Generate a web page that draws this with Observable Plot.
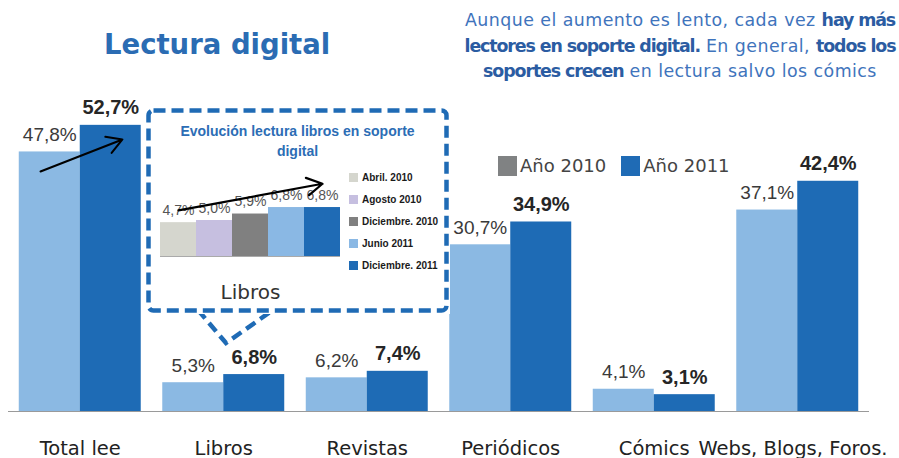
<!DOCTYPE html>
<html>
<head>
<meta charset="utf-8">
<script src="https://cdn.jsdelivr.net/npm/d3@7"></script>
<script src="https://cdn.jsdelivr.net/npm/@observablehq/plot@0.6"></script>
<style>
  body { margin: 0; background: #fff; }
  #wrap { position: relative; width: 899px; height: 458px; overflow: hidden; font-family: "DejaVu Sans", sans-serif; }
  #wrap > * { position: absolute; }
  .title { left: 104px; top: 28px; font-weight: bold; font-size: 27.5px; color: #2B6CB3; white-space: nowrap; }
  .sub { left: 455px; top: 8px; width: 450px; text-align: center; font-size: 17.4px; line-height: 25.5px; color: #3F74BC; white-space: nowrap; letter-spacing: 0.45px; }
  .sub b { color: #2B5CA2; letter-spacing: -1.1px; }
  .legend { left: 498px; top: 155px; font-size: 18px; color: #444; white-space: nowrap; }
  .legend span.sw { display: inline-block; width: 19px; height: 20px; vertical-align: -4px; margin-right: 3px; }
  .ilegend { left: 349px; top: 172px; font-family: "Liberation Sans", sans-serif; font-weight: bold; font-size: 10px; color: #1a1a1a; }
  .ilegend div { height: 22px; line-height: 12px; white-space: nowrap; }
  .ilegend span.sw { display: inline-block; width: 9px; height: 9px; margin-right: 4px; vertical-align: -1px; }
</style>
</head>
<body>
<div id="wrap"></div>
<script>
// ---- data ----
const categories = ["Total lee", "Libros", "Revistas", "Periódicos", "Cómics", "Webs, Blogs, Foros."];
const values2010 = [47.8, 5.3, 6.2, 30.7, 4.1, 37.1];
const values2011 = [52.7, 6.8, 7.4, 34.9, 3.1, 42.4];
const years = ["Año 2010", "Año 2011"];
const yearSwatches = ["#808283", "#1F6BB5"];
const bookPeriods = ["Abril. 2010", "Agosto 2010", "Diciembre. 2010", "Junio 2011", "Diciembre. 2011"];
const bookValues = [4.7, 5.0, 5.9, 6.8, 6.8];
const bookColors = ["#D5D6CE", "#C6BFE0", "#808080", "#8AB8E4", "#1F6BB5"];
// trend arrows (data units: x = group position, y = percent)
const mainArrow = [{x1: 0.223, y1: 44.2, x2: 0.794, y2: 50.1}];
const bookArrow = [{x1: "Abril. 2010", y1: 6.4, x2: "Diciembre. 2011", y2: 10.1}];

const c2010 = "#8BB9E3", c2011 = "#1E6BB5";
const fmt = v => v.toFixed(1).replace(".", ",") + "%";
const rows2010 = categories.map((c, i) => ({cat: c, i, value: values2010[i]}));
const rows2011 = categories.map((c, i) => ({cat: c, i, value: values2011[i]}));
const book = bookPeriods.map((p, i) => ({period: p, value: bookValues[i]}));

const wrap = document.getElementById("wrap");

// ---- main chart ----
const main = Plot.plot({
  width: 899, height: 458,
  marginTop: 0, marginLeft: 0, marginRight: 0, marginBottom: 47,
  x: {domain: [0, 6], range: [8, 869], axis: null},
  y: {domain: [0, 60], range: [411, 411 - 60 * 5.43], axis: null},
  style: {background: "transparent", overflow: "visible"},
  marks: [
    Plot.rectY(rows2010, {x1: d => d.i + 0.075, x2: d => d.i + 0.5, y1: 0, y2: "value", fill: c2010}),
    Plot.rectY(rows2011, {x1: d => d.i + 0.5, x2: d => d.i + 0.925, y1: 0, y2: "value", fill: c2011}),
    Plot.ruleY([0], {x1: 0, x2: 6, stroke: "#9a9a9a", strokeWidth: 1.2}),
    Plot.text(rows2010, {x: d => d.i + 0.2875, y: "value", text: d => fmt(d.value), dy: -11, lineAnchor: "bottom",
      fontSize: 19, fontFamily: "Liberation Sans", fill: "#3a3a3a"}),
    Plot.text(rows2011, {x: d => d.i + 0.7125, y: "value", text: d => fmt(d.value), dy: -11, lineAnchor: "bottom",
      fontSize: 20, fontWeight: "bold", fontFamily: "Liberation Sans", fill: "#262626"}),
    Plot.text(rows2010.slice(0, 5), {x: d => d.i + 0.5, y: 0, text: "cat", dy: 43, lineAnchor: "bottom",
      fontSize: 19.5, fontFamily: "DejaVu Sans", fill: "#222"}),
    Plot.text(rows2010.slice(5), {x: 6, y: 0, text: "cat", dx: 18, dy: 43, lineAnchor: "bottom", textAnchor: "end",
      fontSize: 19.5, fontFamily: "DejaVu Sans", fill: "#222"}),
    Plot.arrow(mainArrow, {x1: "x1", y1: "y1", x2: "x2", y2: "y2", stroke: "#000", strokeWidth: 2, headLength: 13})
  ]
});
main.style.left = "0px"; main.style.top = "0px";
wrap.appendChild(main);

// ---- titles ----
const title = document.createElement("div");
title.className = "title";
title.textContent = "Lectura digital";
wrap.appendChild(title);

const sub = document.createElement("div");
sub.className = "sub";
sub.innerHTML = "Aunque el aumento es lento, cada vez <b>hay más</b><br><b>lectores en soporte digital.</b> En general, <b>todos los</b><br><b>soportes crecen</b> en lectura salvo los cómics";
wrap.appendChild(sub);

// ---- main legend ----
const legend = document.createElement("div");
legend.className = "legend";
legend.innerHTML = years.map((y, i) =>
  `<span class="sw" style="background:${yearSwatches[i]}"></span>${y}`).join('<span style="display:inline-block;width:15px"></span>');
wrap.appendChild(legend);

// ---- callout pointer (decoration) ----
const ns = "http://www.w3.org/2000/svg";
const ptr = document.createElementNS(ns, "svg");
ptr.setAttribute("width", 899); ptr.setAttribute("height", 458);
ptr.style.left = "0px"; ptr.style.top = "0px";
const path = document.createElementNS(ns, "path");
path.setAttribute("d", "M198,310 L226,343 L273,310");
path.setAttribute("fill", "none");
path.setAttribute("stroke", "#1F6BB5");
path.setAttribute("stroke-width", 4.5);
path.setAttribute("stroke-dasharray", "11,6");
ptr.appendChild(path);
wrap.appendChild(ptr);

// ---- inset chart ----
const inset = Plot.plot({
  width: 306, height: 208,
  marginTop: 4, marginLeft: 4, marginRight: 4, marginBottom: 4,
  x: {domain: bookPeriods, range: [15, 197], padding: 0, axis: null},
  y: {domain: [0, 11], range: [150, 150 - 11 * 7.2], axis: null},
  color: {domain: bookPeriods, range: bookColors},
  style: {background: "#fff", overflow: "visible"},
  marks: [
    Plot.frame({stroke: "#1F6BB5", strokeWidth: 4.5, strokeDasharray: "12,6", rx: 5}),
    Plot.barY(book, {x: "period", y: "value", fill: "period"}),
    Plot.tickY(book, {x: "period", y: 0, stroke: "#aaa", strokeWidth: 1.2}),
    Plot.text(book, {x: "period", y: "value", text: d => fmt(d.value), dy: -8, lineAnchor: "bottom",
      fontSize: 14, fontFamily: "Liberation Sans", fill: "#555"}),
    Plot.arrow(bookArrow, {x1: "x1", y1: "y1", x2: "x2", y2: "y2", stroke: "#000", strokeWidth: 2.2, headLength: 12}),
    Plot.text(["Evolución lectura libros en soporte\ndigital"], {frameAnchor: "top", dy: 11, lineAnchor: "top",
      lineHeight: 1.45, fontSize: 14, fontWeight: "bold", fontFamily: "Liberation Sans", fill: "#2C6DB5"}),
    Plot.text(["Libros"], {x: () => "Diciembre. 2010", y: () => 0, dy: 42, lineAnchor: "bottom",
      fontSize: 20, fontFamily: "DejaVu Sans", fill: "#333"})
  ]
});
inset.style.left = "144px"; inset.style.top = "106px";
wrap.appendChild(inset);

const ileg = document.createElement("div");
ileg.className = "ilegend";
ileg.innerHTML = bookPeriods.map((p, i) =>
  `<div><span class="sw" style="background:${bookColors[i]}"></span>${p}</div>`).join("");
wrap.appendChild(ileg);
</script>
</body>
</html>
